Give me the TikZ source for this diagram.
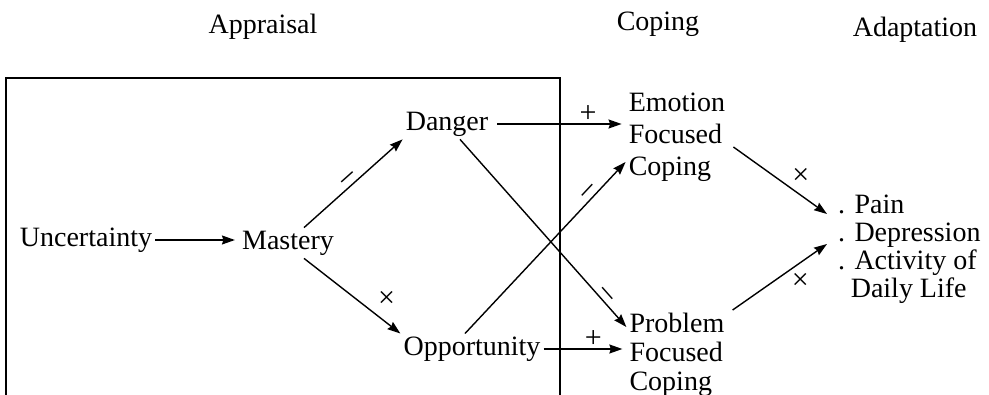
\documentclass[tikz,border=0pt]{standalone}
\usepackage{fontspec}
\setmainfont{Liberation Serif}
\usetikzlibrary{arrows.meta}
\begin{document}
\begin{tikzpicture}[x=1pt,y=-1pt,
  lbl/.style={font=\fontsize{28}{32}\selectfont, inner sep=3pt},
  arr/.style={-{Stealth[length=13pt,width=9pt,inset=1.5pt]}, line width=1.4pt},
  frame/.style={line width=1.2pt},
  sgn/.style={font=\fontsize{30}{30}\selectfont, inner sep=1pt}]
\useasboundingbox (0,0) rectangle (989,395);
\draw[frame] (6,395) -- (6,78) -- (560,78) -- (560,395);
\node[lbl] (tapp) at (263,27) {Appraisal};
\node[lbl] (tcop) at (658,24) {Coping};
\node[lbl] (tada) at (915,30) {Adaptation};
\node[lbl] (unc) at (86,240) {Uncertainty};
\node[lbl] (mas) at (288,243) {Mastery};
\node[lbl] (dan) at (447,124) {Danger};
\node[lbl] (opp) at (472,349) {Opportunity};
\node[lbl, align=left] (emo) at (677,137) {Emotion\\Focused\\Coping};
\node[lbl, align=left, font=\fontsize{28}{29}\selectfont] (pro) at (677,355) {Problem\\Focused\\Coping};
\node[lbl, align=left, anchor=west, font=\fontsize{28}{28}\selectfont] (ada) at (835,249) {. Pain\\. Depression\\. Activity of\\\hspace{0.45em}Daily Life};
\draw[arr, shorten >=4pt] (unc.east) -- (unc.east -| mas.west);
\draw[arr] ([xshift=16pt]mas.north) -- (dan.south west) node[sgn, midway, sloped, above] {–};
\draw[arr] ([xshift=16pt]mas.south) -- (opp.north west) node[sgn, pos=0.72, above right=3pt] {×};
\draw[arr, shorten <=6pt, shorten >=4pt] (dan.east) -- (dan.east -| emo.west) node[sgn, pos=0.72, above] {+};
\draw[arr] ([xshift=13pt]dan.south) -- ([yshift=28pt]pro.west) node[sgn, pos=0.85, sloped, above] {–};
\draw[arr] ([xshift=-7pt]opp.north) -- ([yshift=-25pt]emo.west) node[sgn, pos=0.8, sloped, above] {–};
\draw[arr, shorten >=4pt] (opp.east) -- (opp.east -| pro.west) node[sgn, pos=0.6, above] {+};
\draw[arr] ([shift={(5pt,-10pt)}]emo.east) -- ([shift={(-8pt,35pt)}]ada.west) node[sgn, pos=0.6, above right=1pt] {×};
\draw[arr] ([shift={(5pt,45pt)}]pro.east) -- ([shift={(-8pt,5pt)}]ada.west) node[sgn, pos=0.6, below right=1pt] {×};
\end{tikzpicture}
\end{document}
